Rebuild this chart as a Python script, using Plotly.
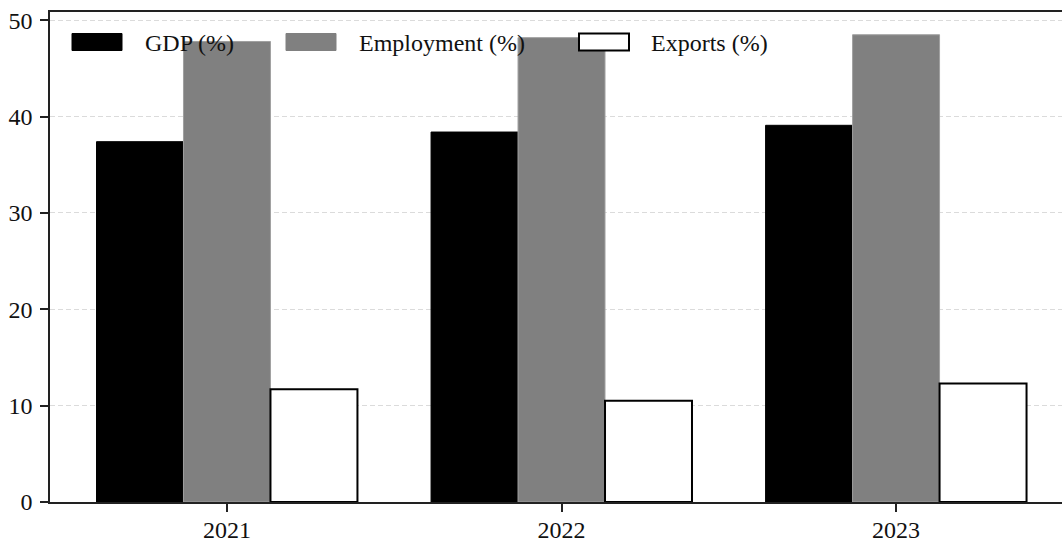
import plotly.graph_objects as go

years = ["2021", "2022", "2023"]
gdp = [37.4, 38.4, 39.1]
employment = [47.8, 48.2, 48.5]
exports = [11.7, 10.5, 12.3]

W, H = 1062, 542
L, R, T, B = 50, 0, 12, 40
FONT = "Liberation Serif, Times New Roman, serif"

fig = go.Figure()
fig.add_bar(x=[0, 1, 2], y=gdp, name="GDP (%)", marker=dict(color="black", line=dict(color="black", width=1)))
fig.add_bar(x=[0, 1, 2], y=employment, name="Employment (%)", marker=dict(color="#808080", line=dict(color="#a0a0a0", width=1)))
fig.add_bar(x=[0, 1, 2], y=exports, name="Exports (%)", marker=dict(color="white", line=dict(color="black", width=2)))

pw = W - L - R
ph = H - T - B
def px_x(p):
    return (p - L) / pw
def px_y(p):
    return (H - B - p) / ph

shapes = []
annotations = []
legend_items = [
    ("GDP (%)", 72, 122, 143, dict(fillcolor="black", line=dict(color="black", width=1))),
    ("Employment (%)", 286, 336, 357, dict(fillcolor="#808080", line=dict(color="#808080", width=1))),
    ("Exports (%)", 579, 629, 649, dict(fillcolor="white", line=dict(color="black", width=2))),
]
for label, x0, x1, tx, style in legend_items:
    shapes.append(dict(type="rect", xref="paper", yref="paper", x0=px_x(x0), x1=px_x(x1),
                       y0=px_y(50.5), y1=px_y(33.5), layer="above", **style))
    annotations.append(dict(text=label, xref="paper", yref="paper", x=px_x(tx), y=px_y(43),
                            xanchor="left", yanchor="middle", showarrow=False,
                            font=dict(family=FONT, size=24, color="#111")))

fig.update_layout(
    width=W, height=H, autosize=False,
    margin=dict(l=L, r=R, t=T, b=B, pad=0),
    paper_bgcolor="white", plot_bgcolor="white",
    barmode="group", bargap=0.22, bargroupgap=0,
    showlegend=False,
    font=dict(family=FONT, size=24, color="#111"),
    shapes=shapes, annotations=annotations,
)
fig.update_xaxes(
    range=[-0.529, 2.496], tickmode="array", tickvals=[0, 1, 2], ticktext=years,
    showgrid=False, zeroline=False, showline=True, linecolor="#222", linewidth=1.5,
    mirror=True, ticks="outside", ticklen=8, tickwidth=1.5, tickcolor="#222",
    automargin=False, ticklabelstandoff=-3,
)
fig.update_yaxes(
    range=[0, 50.86], tickmode="array", tickvals=[0, 10, 20, 30, 40, 50],
    showgrid=True, gridcolor="rgba(200,200,200,0.65)", griddash="5px,3px", gridwidth=1,
    zeroline=False, showline=True, linecolor="#222", linewidth=1.5,
    ticks="outside", ticklen=8, tickwidth=1.5, tickcolor="#222", layer="above traces",
    automargin=False, ticklabelstandoff=3,
)
fig.write_html("out.html")
